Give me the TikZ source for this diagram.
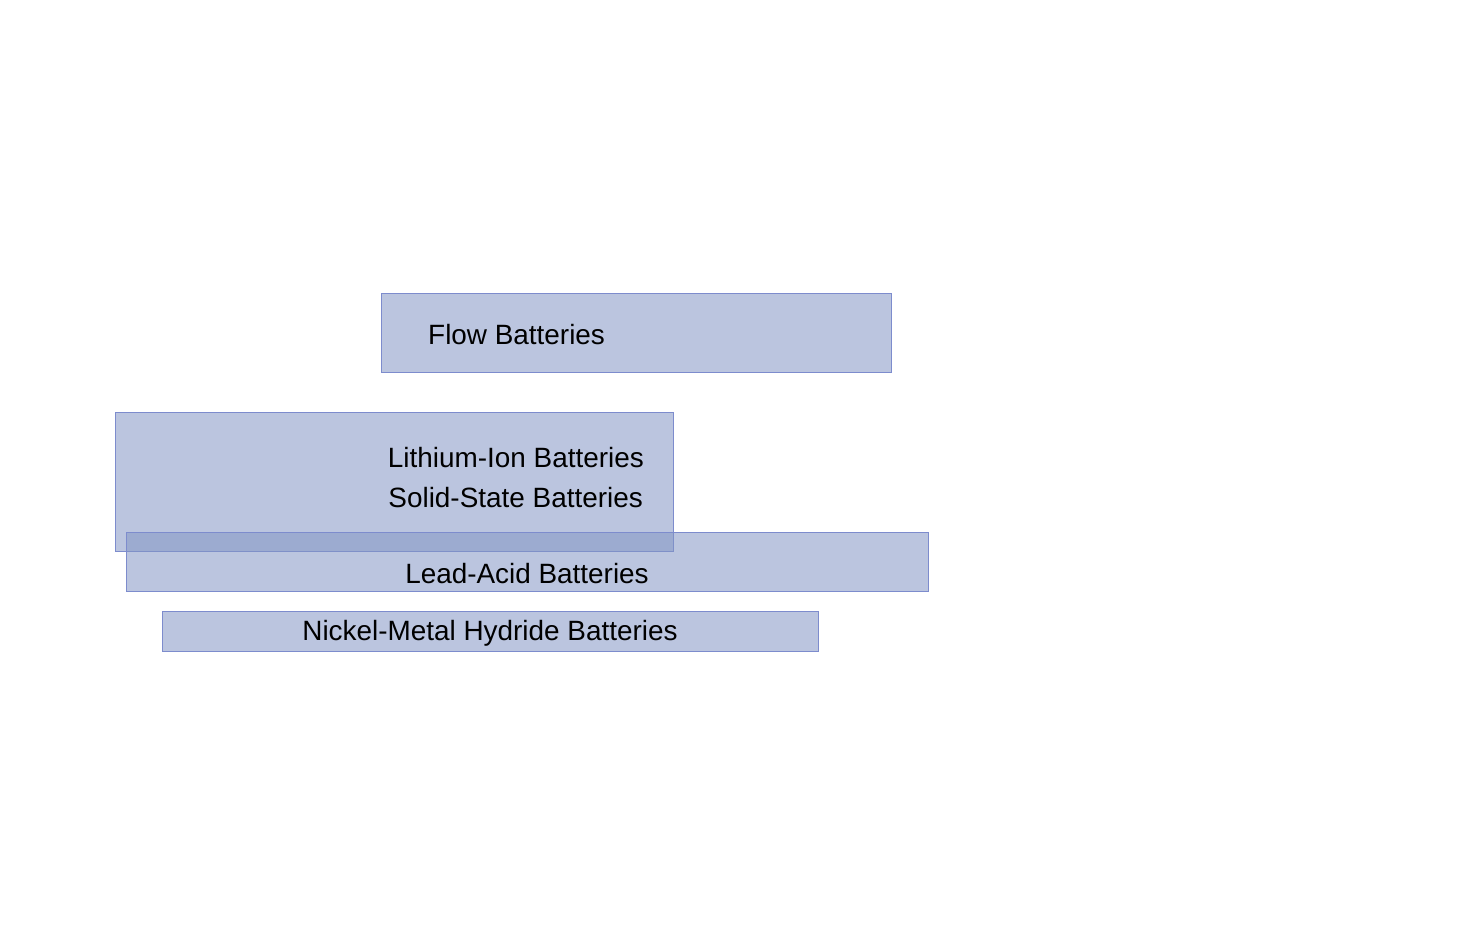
\documentclass[tikz,border=0pt]{standalone}
\usepackage{fontspec}
\setmainfont{Liberation Sans}
\definecolor{boxfill}{RGB}{130,149,197}
\definecolor{boxline}{RGB}{125,140,205}
\begin{document}
\begin{tikzpicture}[x=1pt,y=-1pt,
  bar/.style={draw=boxline,line width=0.9pt,fill=boxfill,fill opacity=0.54},
  lbl/.style={font=\fontsize{27.9}{33}\selectfont,text=black,inner sep=0pt}]
\useasboundingbox (0,0) rectangle (1483,925);
\fill[white] (0,0) rectangle (1483,925);
\path[bar] (381,293) rectangle (891,372) coordinate (flowbox);
\path[bar] (115,412) rectangle (673,551) coordinate (libox);
\path[bar] (126,532) rectangle (928,591) coordinate (labox);
\path[bar] (162,611) rectangle (818,651) coordinate (nibox);
\node[lbl,anchor=west] (flow) at (428,334.5) {Flow Batteries};
\node[lbl,anchor=east] (li) at (644,457.5) {Lithium-Ion Batteries};
\node[lbl,anchor=east] (ss) at (643,497.5) {Solid-State Batteries};
\node[lbl] (la) at (527,573.5) {Lead-Acid Batteries};
\node[lbl] (ni) at (490,633.5) {Nickel-Metal Hydride Batteries};
\end{tikzpicture}
\end{document}
